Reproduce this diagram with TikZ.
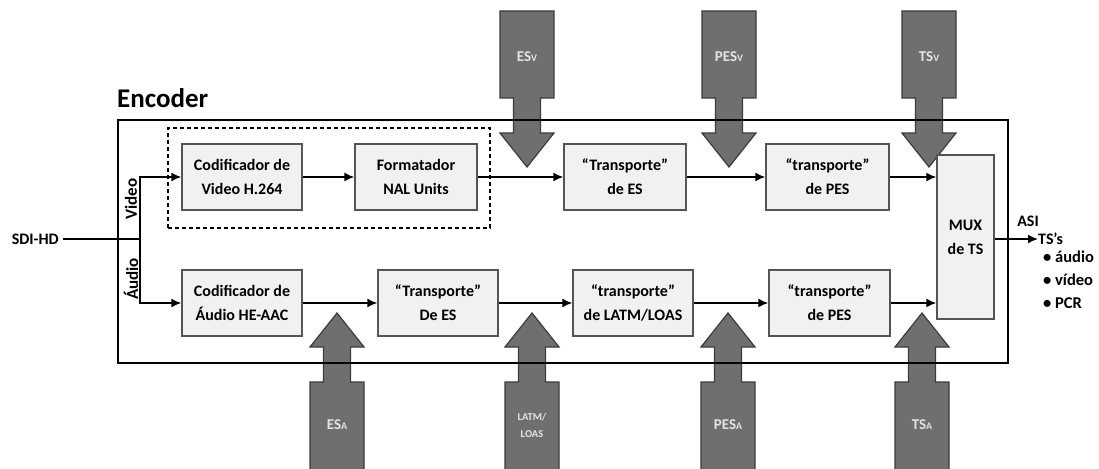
\documentclass[tikz,border=0pt]{standalone}
\usepackage{fontspec}
\setmainfont{Carlito}
\usetikzlibrary{positioning,arrows.meta}

\definecolor{blockfill}{HTML}{F1F1F1}
\definecolor{blockline}{HTML}{555555}
\definecolor{fatfill}{HTML}{6F6F6F}
\definecolor{fatline}{HTML}{3C3C3C}
\definecolor{fattext}{HTML}{E4E4E4}

\begin{document}
\begin{tikzpicture}
	[x=1pt,y=-1pt,
	every node/.style={font=\bfseries\fontsize{16}{24}\selectfont},
	block/.style={draw=blockline,fill=blockfill,line width=1.4pt,minimum width=120pt,minimum height=66pt,align=center,inner sep=0pt},
	flow/.style={-{Latex[length=10pt,width=9pt]},line width=1.6pt},
	fat/.style={fill=fatfill,draw=fatline,line width=1.2pt},
	fatlabel/.style={text=fattext,inner sep=0pt,font=\bfseries\fontsize{15}{15}\selectfont}]
	\useasboundingbox (0,0) rectangle (1099,468);

	% big arrows from the top (video) and from the bottom (audio)
	\foreach \cx/\lab in {527/ES, 729/PES, 929/TS}{
		\draw[fat] (\cx-27,11) -- (\cx+27,11) -- (\cx+27,98) -- (\cx+13.5,98) -- (\cx+13.5,133)
			-- (\cx+27,133) -- (\cx,167) -- (\cx-27,133) -- (\cx-13.5,133) -- (\cx-13.5,98)
			-- (\cx-27,98) -- cycle;
		\node[fatlabel] (top\lab) at (\cx,57) {\lab{\fontsize{10}{10}\selectfont V}};
	}
	\foreach \cx in {337, 532, 728, 922}{
		\draw[fat] (\cx-27,476) -- (\cx+27,476) -- (\cx+27,382) -- (\cx+13.5,382) -- (\cx+13.5,347)
			-- (\cx+27,347) -- (\cx,313) -- (\cx-27,347) -- (\cx-13.5,347) -- (\cx-13.5,382)
			-- (\cx-27,382) -- cycle;
	}
	\node[fatlabel] (botES) at (337,425) {ES{\fontsize{10}{10}\selectfont A}};
	\node[fatlabel,align=center,font=\bfseries\fontsize{10.5}{17}\selectfont] (botLATM) at (532,425) {LATM/\\LOAS};
	\node[fatlabel] (botPES) at (728,425) {PES{\fontsize{10}{10}\selectfont A}};
	\node[fatlabel] (botTS) at (922,425) {TS{\fontsize{10}{10}\selectfont A}};

	% encoder frame
	\node[draw,line width=2.4pt,minimum width=890pt,minimum height=243pt,inner sep=0pt] (encoder) at (563,241.5) {};
	\node[anchor=base west,inner sep=0pt,font=\bfseries\fontsize{27}{27}\selectfont] (enctitle) at (117,108) {Encoder};
	\node[draw,dash pattern=on 4pt off 3pt,line width=2.2pt,minimum width=322pt,minimum height=100pt,inner sep=0pt] (nalgroup) at (329,178) {};

	% video row
	\node[block] (codvid) at (242,177) {Codificador de\\Video H.264};
	\node[block,minimum width=122pt] (nal) at (416,177) {Formatador\\NAL Units};
	\node[block,minimum width=122pt] (tesv) at (625,177) {“Transporte”\\de ES};
	\node[block,minimum width=123pt] (tpesv) at (827.5,177) {“transporte”\\de PES};
	\node[block,minimum width=57pt,minimum height=164pt] (mux) at (965.5,237) {MUX\\de TS};

	% audio row
	\node[block] (codaud) at (242,303) {Codificador de\\Áudio HE-AAC};
	\node[block] (tesa) at (438,303) {“Transporte”\\De ES};
	\node[block] (latm) at (633,303) {“transporte”\\de LATM/LOAS};
	\node[block,minimum width=121pt] (tpesa) at (829.5,303) {“transporte”\\de PES};

	% input
	\node[anchor=east,inner sep=0pt] (sdi) at (59,239) {SDI-HD};
	\coordinate (split) at (140,239);
	\node[rotate=90,inner sep=0pt,font=\bfseries\fontsize{17}{17}\selectfont] (vidlabel) at (131,199) {Video};
	\node[rotate=90,inner sep=0pt,font=\bfseries\fontsize{17}{17}\selectfont] (audlabel) at (131,279) {Áudio};
	\draw[line width=1.5pt,shorten <=4pt] (sdi.east) -- (split);
	\draw[flow] (split) |- (codvid);
	\draw[flow] (split) |- (codaud);

	\path[flow]
	(codvid) edge (nal)
	(nal) edge (tesv)
	(tesv) edge (tpesv)
	(codaud) edge (tesa)
	(tesa) edge (latm)
	(latm) edge (tpesa);
	\draw[flow] (tpesv) -- (tpesv -| mux.west);
	\draw[flow] (tpesa) -- (tpesa -| mux.west);

	% output
	\coordinate (asiend) at (1038,239);
	\draw[flow] (mux.east |- asiend) -- (asiend);
	\node[anchor=west,inner sep=0pt] (tss) at (asiend) {TS’s};
	\node[anchor=base,inner sep=0pt] (asi) at (1028,226) {ASI};
	\node[anchor=north west,align=left,inner sep=0pt,font=\bfseries\fontsize{16.5}{23}\selectfont] (tslist) at (1043,251) {\textbullet\ áudio\\\textbullet\ vídeo\\\textbullet\ PCR};
\end{tikzpicture}
\end{document}
